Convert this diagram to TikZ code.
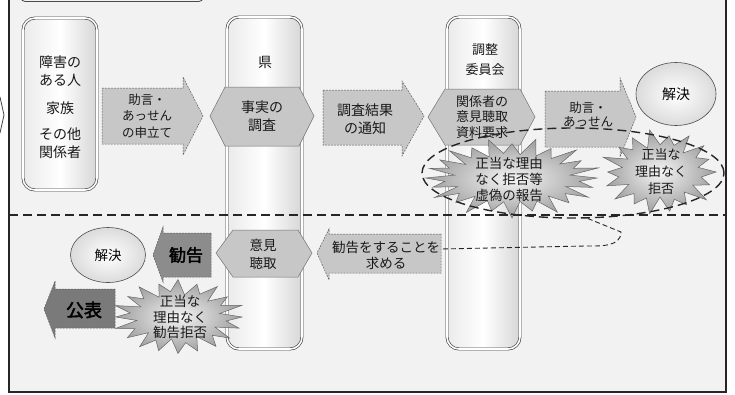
\documentclass[tikz,border=0pt]{standalone}
\usepackage{fontspec}
\setmainfont{Noto Sans CJK JP}
\newfontfamily\jpb{Noto Sans CJK JP}[FakeBold=2.5]
\usetikzlibrary{shapes.geometric,calc}
\definecolor{bgc}{HTML}{F2F2F2}
\begin{document}
\begin{tikzpicture}[x=1pt,y=-1pt,
  jp/.style={text=black!90, align=center, inner sep=0pt},
  pillar/.style={draw=black!75, line width=0.65pt, double=white, double distance=1.6pt, rounded corners=12pt, left color=black!8, right color=black!16, middle color=white},
  hexa/.style={fill=black!22, draw=black!55, line width=0.5pt},
  barrow/.style={draw=black!65, line width=0.5pt, dash pattern=on 1.8pt off 1.2pt},
  star/.style={draw=black!60, line width=0.5pt, inner color=black!4, outer color=black!38},
  solve/.style={ellipse, draw=black!70, line width=0.6pt, inner color=white, outer color=black!14, inner sep=0pt},
  ring/.style={ellipse, draw=black!85, line width=1.4pt, dash pattern=on 9pt off 5pt, inner sep=0pt},
  conn/.style={draw=black!85, line width=0.9pt, dash pattern=on 5pt off 3pt},
  sep/.style={draw=black!85, line width=1.3pt, dash pattern=on 9pt off 5pt}
]
\useasboundingbox (0,0) rectangle (735,394);
\fill[white] (0,0) rectangle (735,394);
\fill[bgc] (9,0) rectangle (726,392);
\draw[black!70, line width=0.8pt, rounded corners=4pt] (21,-12) rectangle (203,1.5);
\draw[black!75, line width=0.8pt] (0,97) -- (4,115) -- (0,133);

% pillars
\path[pillar] (23,18) rectangle (97,190);
\path[pillar] (227,17) rectangle (302,349);
\path[pillar] (447,17) rectangle (520,349);

% pillar texts
\node[jp, font=\fontsize{14}{18}\selectfont] (p1a) at (60,71) {障害の\\ある人};
\node[jp, font=\fontsize{14}{18}\selectfont] (p1b) at (60,108) {家族};
\node[jp, font=\fontsize{14}{18}\selectfont] (p1c) at (60,143) {その他\\関係者};
\node[jp, font=\fontsize{14}{18}\selectfont] (ken) at (265,62) {県};
\node[jp, font=\fontsize{13}{20}\selectfont] (iinkai) at (485,60) {調整\\委員会};

% hexagons
\path[hexa] (210,116) -- (225,87) -- (299,87) -- (314,116) -- (299,146) -- (225,146) -- cycle;
\node[jp, font=\fontsize{14}{18}\selectfont] (chosa) at (262,116) {事実の\\調査};
\path[hexa] (428,117) -- (445,89) -- (520,89) -- (535,117) -- (520,145) -- (445,145) -- cycle;
\node[jp, font=\fontsize{13}{15.5}\selectfont] (choshu) at (482,117) {関係者の\\意見聴取\\資料要求};
\path[hexa] (216,253) -- (233,230) -- (298,230) -- (312,253) -- (298,277) -- (233,277) -- cycle;
\node[jp, font=\fontsize{13.5}{18}\selectfont] (iken) at (263,254) {意見\\聴取};

% block arrows
\path[barrow, fill=black!22] (102,88) -- (183,88) -- (183,77) -- (203,116) -- (183,155) -- (183,144) -- (102,144) -- cycle;
\node[jp, font=\fontsize{12.5}{16.5}\selectfont] (moshitate) at (147,116) {助言・\\あっせん\\の申立て};
\path[barrow, fill=black!22] (323,90) -- (402,90) -- (402,81) -- (424,116) -- (402,156) -- (402,145) -- (323,145) -- cycle;
\node[jp, font=\fontsize{14}{18}\selectfont] (tsuchi) at (365,119) {調査結果\\の通知};
\path[barrow, fill=black!22] (545,91) -- (620,91) -- (620,78) -- (636,117) -- (620,157) -- (620,147) -- (545,147) -- cycle;
\node[jp, font=\fontsize{12.5}{14}\selectfont] (assen) at (588,115) {助言・\\あっせん};
\path[barrow, fill=black!22] (441,234) -- (329,234) -- (329,229) -- (317,253) -- (329,280) -- (329,273) -- (441,273) -- cycle;
\node[jp, font=\fontsize{13.5}{16}\selectfont] (motomeru) at (386,255) {勧告をすることを\\求める};
\coordinate (reqE) at (441,249);
\path[barrow, fill=black!45] (211,233) -- (163,233) -- (163,227) -- (153,255) -- (163,282) -- (163,277) -- (211,277) -- cycle;
\node[jp, text=black, font=\fontsize{17}{20}\jpb] (kankoku) at (186,255) {勧告};
\path[barrow, fill=black!52] (115,289) -- (55,289) -- (55,281) -- (44,309) -- (55,338) -- (55,328) -- (115,328) -- cycle;
\node[jp, text=black, font=\fontsize{18}{20}\jpb] (kohyo) at (84,310) {公表};

% resolution ellipses
\node[solve, minimum width=80pt, minimum height=63pt, font=\fontsize{14}{16}\selectfont] (solve1) at (676,94) {解決};
\node[solve, minimum width=75pt, minimum height=55pt, font=\fontsize{13.5}{16}\selectfont] (solve2) at (108,255) {解決};

% starbursts
\shadedraw[star] plot[variable=\k, samples at={0,...,47}]
  ({512+(85-22*mod(\k,2))*(1+0.08*sin(\k*97))*cos(\k*7.5)},
   {178+(37-13*mod(\k,2))*(1+0.08*sin(\k*97))*sin(\k*7.5)}) -- cycle;
\shadedraw[star] plot[variable=\k, samples at={0,...,35}]
  ({660+(56-17*mod(\k,2))*(1+0.08*sin(\k*113))*cos(\k*10)},
   {172+(40-13*mod(\k,2))*(1+0.08*sin(\k*113))*sin(\k*10)}) -- cycle;
\shadedraw[star] plot[variable=\k, samples at={0,...,39}]
  ({178+(64-19*mod(\k,2))*(1+0.08*sin(\k*89))*cos(\k*9)},
   {317+(36-12*mod(\k,2))*(1+0.08*sin(\k*89))*sin(\k*9)}) -- cycle;

% dashed ring and connector
\node[ring, minimum width=302pt, minimum height=90pt] (scopering) at (573,173) {};
\draw[conn] (scopering.288) -- (621,232) to[out=-90, in=0] (585,246) -- (reqE);

% starburst texts
\node[jp, font=\fontsize{13.5}{16}\selectfont] (kyohi1) at (509,179) {正当な理由\\なく拒否等\\虚偽の報告};
\node[jp, font=\fontsize{13}{17}\selectfont] (kyohi2) at (661,172) {正当な\\理由なく\\拒否};
\node[jp, font=\fontsize{13.5}{15.5}\selectfont] (kyohi3) at (180,317) {正当な\\理由なく\\勧告拒否};

% separator and frame
\draw[sep] (9,215) -- (726,215);
\draw[black!85, line width=1.3pt] (9,-5) -- (9,392) -- (726,392) -- (726,-5);
\end{tikzpicture}
\end{document}
